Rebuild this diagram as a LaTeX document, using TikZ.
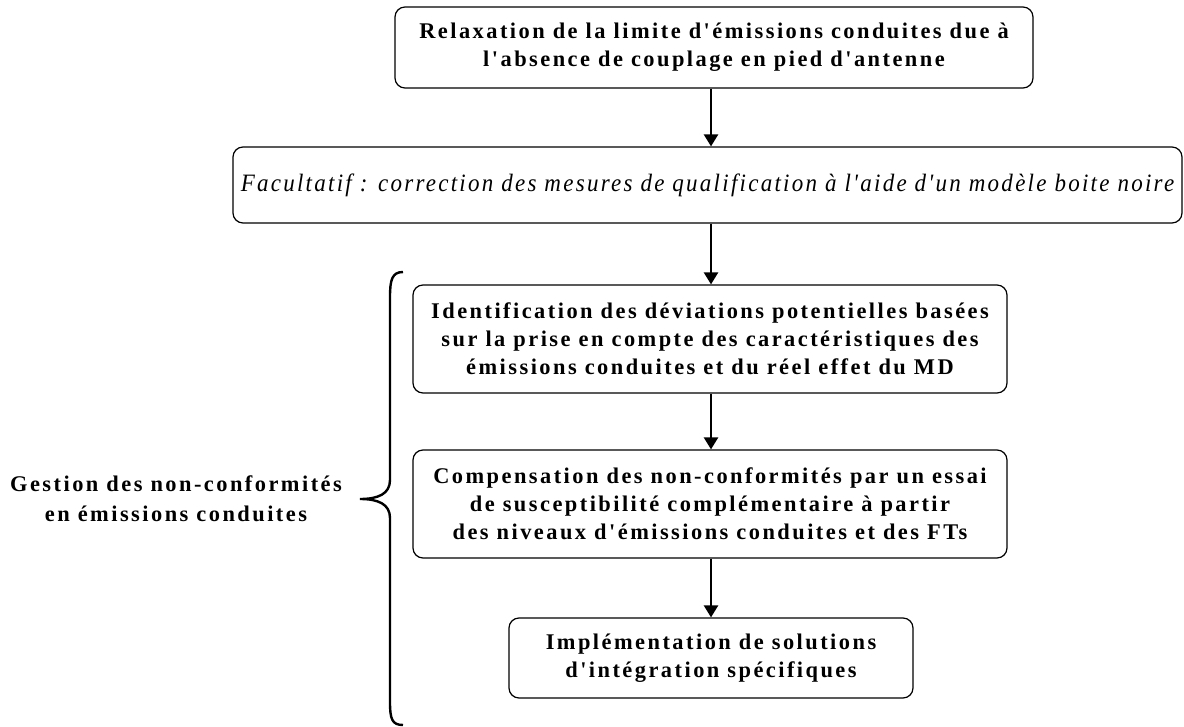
\documentclass[tikz,border=0pt]{standalone}
\usepackage{fontspec}
\setmainfont{Liberation Serif}
\newfontfamily\boldsp[LetterSpace=11]{Liberation Serif Bold}
\newfontfamily\itsp[LetterSpace=9,FakeStretch=0.92]{Liberation Serif Italic}
\usetikzlibrary{arrows.meta}
\begin{document}
\begin{tikzpicture}[x=1pt,y=-1pt,
  box/.style={draw, line width=1.2pt, rounded corners=10pt, align=center, inner sep=0pt,
    font=\fontsize{22.4}{28}\boldsp},
  conn/.style={line width=2.4pt, -{Triangle[width=14pt,length=12pt]}},
]
\useasboundingbox (0,0) rectangle (1184,727);
\node[box, minimum width=638pt, minimum height=81pt] (b1) at (714,47.5)
  {Relaxation de la limite d'émissions conduites due à\\l'absence de couplage en pied d'antenne};
\node[box, minimum width=949pt, minimum height=76pt, font=\fontsize{25}{30}\itsp] (b2) at (707.5,185)
  {Facultatif : correction des mesures de qualification à l'aide d'un modèle boite noire};
\node[box, minimum width=594pt, minimum height=108pt] (b3) at (710,339)
  {Identification des déviations potentielles basées\\sur la prise en compte des caractéristiques des\\émissions conduites et du réel effet du MD};
\node[box, minimum width=594pt, minimum height=108pt] (b4) at (710,504)
  {Compensation des non-conformités par un essai\\de susceptibilité complémentaire à partir\\des niveaux d'émissions conduites et des FTs};
\node[box, minimum width=404pt, minimum height=80pt] (b5) at (711,658)
  {Implémentation de solutions\\d'intégration spécifiques};
\node[font=\fontsize{22.4}{30}\boldsp, align=center] (g) at (176,499)
  {Gestion des non-conformités\\en émissions conduites};
\coordinate (a1) at (711,0);
\draw[conn] (a1 |- b1.south) -- (a1 |- b2.north);
\draw[conn] (a1 |- b2.south) -- (a1 |- b3.north);
\draw[conn] (a1 |- b3.south) -- (a1 |- b4.north);
\draw[conn] (a1 |- b4.south) -- (a1 |- b5.north);
\coordinate (bt) at (403,272);
\coordinate (bb) at (403,725);
\coordinate (tip) at (360,499);
\draw[line width=2.4pt] (bt) .. controls (392,272) and (390,280) .. (390,297) -- (390,480)
  .. controls (390,494) and (378,499) .. (tip)
  .. controls (378,499) and (390,504) .. (390,518) -- (390,702)
  .. controls (390,719) and (392,725) .. (bb);
\end{tikzpicture}
\end{document}
